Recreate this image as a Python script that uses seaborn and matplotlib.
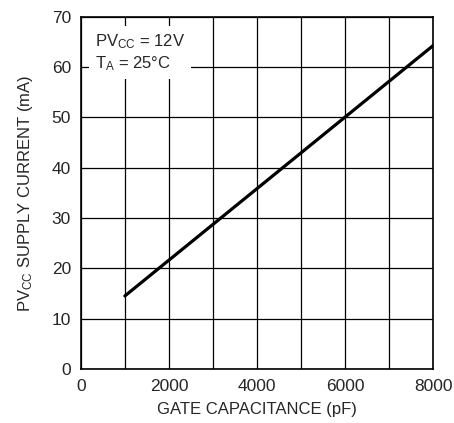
import matplotlib
matplotlib.use("Agg")
import matplotlib.pyplot as plt
import seaborn as sns
import pandas as pd

# data
gate_cap_pf = [1000, 8000]
supply_ma = [14.5, 64.3]
x_ticks = [0, 2000, 4000, 6000, 8000]
y_ticks = [0, 10, 20, 30, 40, 50, 60, 70]

df = pd.DataFrame({"cap": gate_cap_pf, "current": supply_ma})

sns.set_style("white")
plt.rcParams['font.family'] = ['Liberation Sans', 'DejaVu Sans']
plt.rcParams['mathtext.fontset'] = 'custom'
plt.rcParams['mathtext.rm'] = 'Liberation Sans'
plt.rcParams['mathtext.it'] = 'Liberation Sans'

fig = plt.figure(figsize=(4.54, 4.23), dpi=100)
ax = fig.add_axes([0.178, 0.128, 0.776, 0.832])

sns.lineplot(data=df, x="cap", y="current", ax=ax, color="black", linewidth=2.3)

ax.set_xlim(0, 8000)
ax.set_ylim(0, 70)
ax.set_xticks(x_ticks)
ax.set_xticks(range(1000, 8000, 2000), minor=True)
ax.set_yticks(y_ticks)
ax.grid(True, which="both", color="black", linewidth=0.9)
ax.tick_params(which="both", length=0, labelsize=12.5, pad=7)
for s in ax.spines.values():
    s.set_color("black")
    s.set_linewidth(1.2)

ax.set_xlabel("GATE CAPACITANCE (pF)", fontsize=12, labelpad=6)
ax.set_ylabel("PV$_{\\mathrm{CC}}$ SUPPLY CURRENT (mA)", fontsize=12, labelpad=12)

ax.text(320, 67.0, "PV$_{\\mathrm{CC}}$ = 12V\nT$_{\\mathrm{A}}$ = 25°C", fontsize=12,
        va="top", ha="left", linespacing=1.25,
        bbox=dict(facecolor="white", edgecolor="none", pad=4.5))

fig.savefig("out.png", dpi=100)
